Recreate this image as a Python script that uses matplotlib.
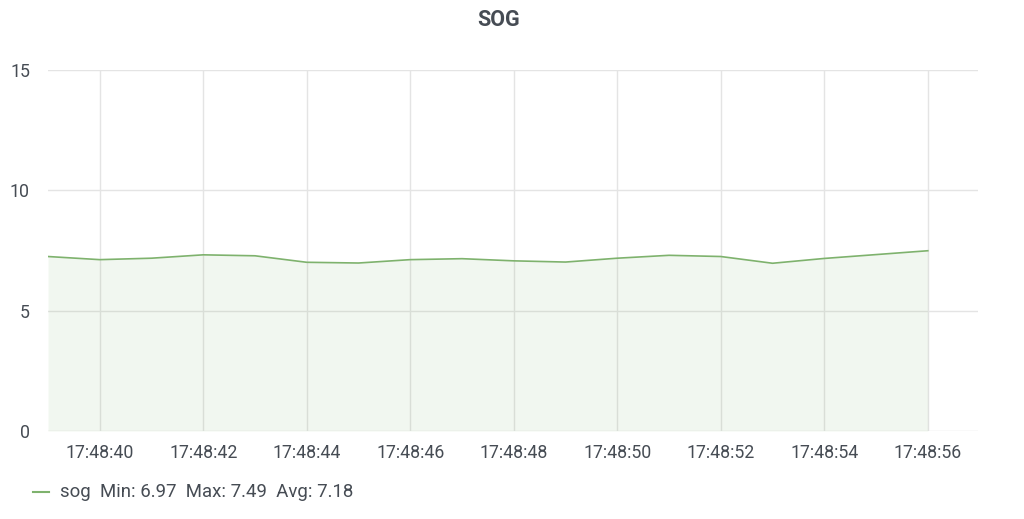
import pandas as pd
import matplotlib.pyplot as plt
import matplotlib.dates as mdates

# SOG readings, one per second
times = ["17:48:39", "17:48:40", "17:48:41", "17:48:42", "17:48:43", "17:48:44",
         "17:48:45", "17:48:46", "17:48:47", "17:48:48", "17:48:49", "17:48:50",
         "17:48:51", "17:48:52", "17:48:53", "17:48:54", "17:48:55", "17:48:56"]
sog = [7.25, 7.12, 7.18, 7.32, 7.28, 7.01, 6.98, 7.12, 7.16, 7.07, 7.02, 7.18,
       7.30, 7.25, 6.97, 7.17, 7.33, 7.49]
yticks = [0, 5, 10, 15]
tick_times = ["17:48:40", "17:48:42", "17:48:44", "17:48:46", "17:48:48",
              "17:48:50", "17:48:52", "17:48:54", "17:48:56"]

plt.rcParams['font.family'] = ['Roboto', 'DejaVu Sans']
text_color = '#464c54'
line_color = '#7eb26d'
grid_color = '#e4e4e4'

t = pd.to_datetime(["2020-01-01 " + s for s in times])
ticks = pd.to_datetime(["2020-01-01 " + s for s in tick_times])

fig = plt.figure(figsize=(10.24, 5.19), dpi=100)
ax = fig.add_axes([48 / 1024, 88 / 519, 930 / 1024, 361 / 519])

ax.plot(t, sog, color=line_color, linewidth=1.2)
ax.fill_between(t, sog, 0, color=line_color, alpha=0.1, linewidth=0)

ax.set_ylim(0, 15)
ax.set_yticks(yticks)
ax.set_xlim(t[0], t[-1] + pd.Timedelta(seconds=0.97))
ax.set_xticks(ticks)
ax.xaxis.set_major_formatter(mdates.DateFormatter('%H:%M:%S'))

for s in ax.spines.values():
    s.set_visible(False)
ax.grid(True, color=grid_color, linewidth=1)
ax.set_axisbelow(True)
ax.tick_params(length=0, labelsize=12.8, colors=text_color)
ax.tick_params(axis='y', pad=13)
ax.tick_params(axis='x', pad=9)

fig.text(499 / 1024, 1 - 20 / 519, 'SOG', ha='center', va='center',
         fontsize=15.5, fontweight='bold', color=text_color)

# legend line + stats text
fig.add_artist(plt.Line2D([33 / 1024, 49 / 1024], [1 - 492 / 519, 1 - 492 / 519],
                          color=line_color, linewidth=1.5))
fig.text(60 / 1024, 1 - 492 / 519, 'sog  Min: 6.97  Max: 7.49  Avg: 7.18',
         ha='left', va='center', fontsize=13.4, color=text_color)

fig.savefig('out.png', dpi=100)
